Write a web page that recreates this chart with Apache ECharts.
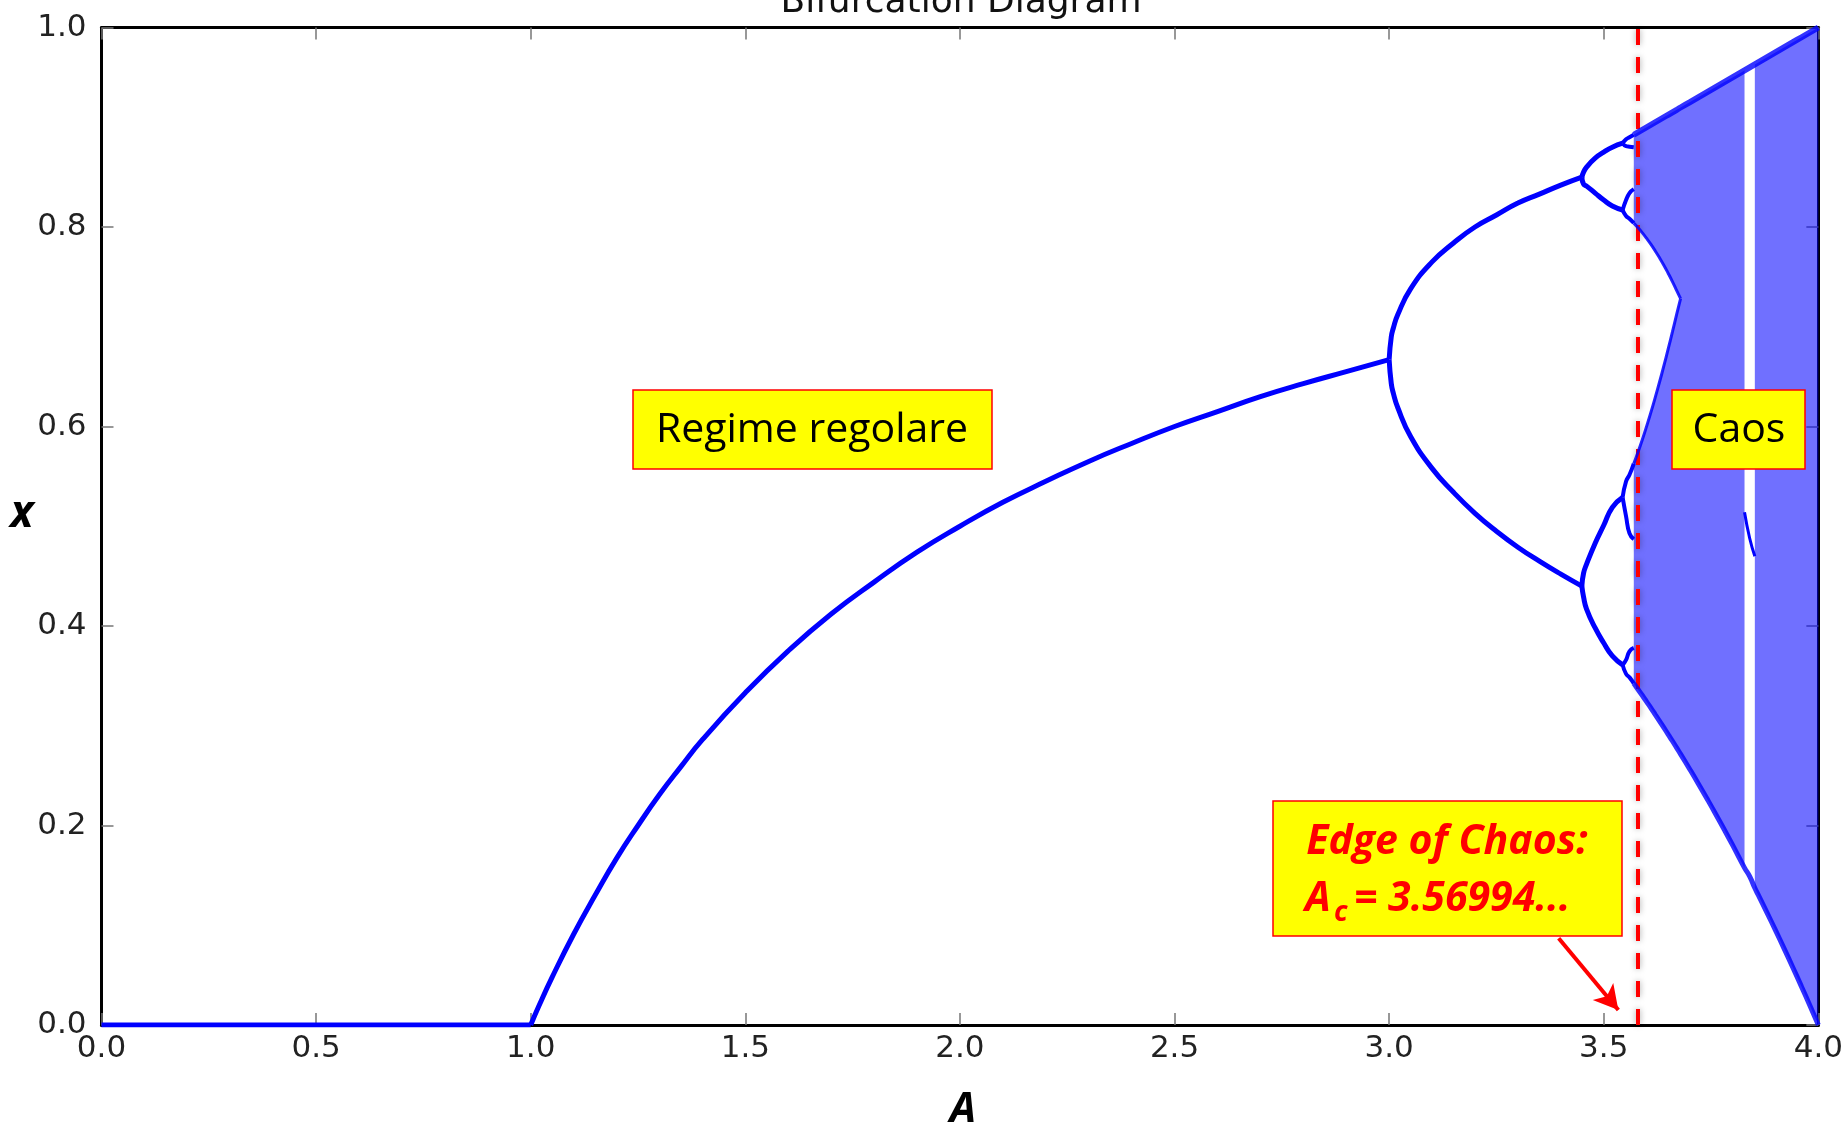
<!DOCTYPE html>
<html>
<head>
<meta charset="utf-8">
<script src="https://cdn.jsdelivr.net/npm/echarts@6/dist/echarts.min.js"></script>
<style>
html,body{margin:0;padding:0;background:#fff;}
#chart{width:1846px;height:1128px;}
</style>
</head>
<body>
<div id="chart"></div>
<script>
// ---- data ----
const xTicks = [0.0, 0.5, 1.0, 1.5, 2.0, 2.5, 3.0, 3.5, 4.0];
const yTicks = [0.0, 0.2, 0.4, 0.6, 0.8, 1.0];

// fixed point x = 0 for A < 1
const branchZero = [[0.0, 0.0], [1.0, 0.0]];
// single stable branch 1 < A < 3
const branchOneA = [1.00, 1.02, 1.05, 1.10, 1.15, 1.20, 1.25, 1.30, 1.35, 1.40, 1.50, 1.60, 1.70, 1.80, 1.90, 2.00, 2.10, 2.20, 2.30, 2.40, 2.50, 2.60, 2.70, 2.80, 2.90, 3.00];
const branchOneX = [0.000, 0.020, 0.048, 0.091, 0.130, 0.167, 0.200, 0.231, 0.259, 0.286, 0.333, 0.375, 0.412, 0.444, 0.474, 0.500, 0.524, 0.545, 0.565, 0.583, 0.600, 0.615, 0.630, 0.643, 0.655, 0.667];
// period 2
const period2A  = [3.000, 3.005, 3.010, 3.020, 3.050, 3.100, 3.150, 3.200, 3.250, 3.300, 3.350, 3.400, 3.449];
const period2Hi = [0.667, 0.690, 0.699, 0.712, 0.738, 0.765, 0.784, 0.800, 0.812, 0.824, 0.833, 0.842, 0.850];
const period2Lo = [0.667, 0.643, 0.633, 0.619, 0.590, 0.558, 0.534, 0.513, 0.495, 0.479, 0.465, 0.452, 0.440];
// period 4
const period4A = [3.449, 3.453, 3.460, 3.480, 3.500, 3.520, 3.544];
const period4a = [0.850, 0.855, 0.860, 0.869, 0.875, 0.880, 0.884];
const period4b = [0.850, 0.843, 0.841, 0.834, 0.827, 0.821, 0.817];
const period4c = [0.440, 0.453, 0.462, 0.483, 0.501, 0.519, 0.529];
const period4d = [0.440, 0.429, 0.417, 0.398, 0.383, 0.370, 0.361];
// period 8 (up to the onset of chaos)
const period8A  = [3.544, 3.552, 3.560, 3.570];
const period8a1 = [0.884, 0.888, 0.890, 0.8925];
const period8a2 = [0.884, 0.881, 0.8805, 0.880];
const period8b1 = [0.361, 0.352, 0.3485, 0.3425];
const period8b2 = [0.361, 0.366, 0.3746, 0.378];
const period8c1 = [0.817, 0.811, 0.8083, 0.804];
const period8c2 = [0.817, 0.827, 0.834, 0.838];
const period8d1 = [0.529, 0.545, 0.5516, 0.5628];
const period8d2 = [0.529, 0.510, 0.4929, 0.487];

// chaotic region: two bands before they merge
const bandA      = [3.570, 3.580, 3.590, 3.600, 3.610, 3.620, 3.630, 3.640, 3.650, 3.660, 3.670, 3.679];
const bandTop    = [0.8925, 0.8950, 0.8975, 0.9000, 0.9025, 0.9050, 0.9075, 0.9100, 0.9125, 0.9150, 0.9175, 0.9198];
const bandGapHi  = [0.8039, 0.7992, 0.7941, 0.7885, 0.7825, 0.7760, 0.7691, 0.7617, 0.7537, 0.7453, 0.7363, 0.7282];
const bandGapLo  = [0.5628, 0.5745, 0.5870, 0.6004, 0.6144, 0.6292, 0.6446, 0.6607, 0.6776, 0.6948, 0.7126, 0.7282];
const bandBottom = [0.3425, 0.3364, 0.3303, 0.3240, 0.3177, 0.3112, 0.3047, 0.2981, 0.2914, 0.2847, 0.2778, 0.2716];
// single band up to the period-3 window
const chaosA      = [3.679, 3.700, 3.720, 3.740, 3.760, 3.780, 3.800, 3.828];
const chaosTop    = [0.9198, 0.9250, 0.9300, 0.9350, 0.9400, 0.9450, 0.9500, 0.9570];
const chaosBottom = [0.2716, 0.2567, 0.2422, 0.2273, 0.2121, 0.1965, 0.1805, 0.1575];
// period-3 window
const windowA   = [3.828, 3.840, 3.852];
const windowTop = [0.957, 0.960, 0.963];
const windowMid = [0.514, 0.488, 0.470];
const windowLow = [0.1575, 0.149, 0.1373];
// chaos after the window
const chaos2A      = [3.852, 3.860, 3.880, 3.900, 3.920, 3.940, 3.960, 3.980, 4.000];
const chaos2Top    = [0.9630, 0.9650, 0.9700, 0.9750, 0.9800, 0.9850, 0.9900, 0.9950, 1.0000];
const chaos2Bottom = [0.1373, 0.1304, 0.1129, 0.0951, 0.0768, 0.0582, 0.0392, 0.0198, 0.0000];

const edgeOfChaosA = 3.575;
const arrowFrom = [3.395, 0.087];
const arrowTo   = [3.534, 0.015];

// ---- build chart ----
const BLUE = '#0000ff';
const CHAOS_FILL = 'rgba(0,0,255,0.56)';
const zip = (xs, ys) => xs.map((x, i) => [x, ys[i]]);

function branch(xs, ys, width, opacity) {
  return {
    type: 'line', data: zip(xs, ys), showSymbol: false, symbol: 'none',
    smooth: 0.5, z: 5, silent: true,
    lineStyle: { color: BLUE, width: width || 5, opacity: opacity == null ? 1 : opacity }
  };
}
// polygon outline given as a list of [A, x] value pairs
function area(outline) {
  return {
    type: 'custom', coordinateSystem: 'cartesian2d', silent: true, clip: true, z: 3,
    data: [outline[0]],
    renderItem: function (params, api) {
      return { type: 'polygon', shape: { points: outline.map(p => api.coord(p)) }, style: { fill: CHAOS_FILL } };
    }
  };
}
const rev = a => a.slice().reverse();

// outline of the chaotic region left of the period-3 window (with the notch between the two bands)
const leftA   = bandA.concat(chaosA.slice(1));
const leftTop = bandTop.concat(chaosTop.slice(1));
const leftBot = bandBottom.concat(chaosBottom.slice(1));
const leftOutline = zip(leftA, leftTop)
  .concat(rev(zip(leftA, leftBot)))
  .concat(zip(bandA, bandGapLo))
  .concat(rev(zip(bandA, bandGapHi)));
const rightOutline = zip(chaos2A, chaos2Top).concat(rev(zip(chaos2A, chaos2Bottom)));

const envTopA = bandA.concat(chaosA.slice(1), windowA.slice(1), chaos2A.slice(1));
const envTopX = bandTop.concat(chaosTop.slice(1), windowTop.slice(1), chaos2Top.slice(1));
const envBotX = bandBottom.concat(chaosBottom.slice(1), windowLow.slice(1), chaos2Bottom.slice(1));

const series = [
  area(leftOutline),
  area(rightOutline),
  branch(envTopA, envTopX, 6, 0.8),
  branch(envTopA, envBotX, 5, 0.8),
  branch(bandA, bandGapHi, 3, 0.85),
  branch(bandA, bandGapLo, 3, 0.85),
  branch(windowA, windowMid, 3),
  { type: 'line', data: branchZero, showSymbol: false, symbol: 'none', z: 5, silent: true,
    lineStyle: { color: BLUE, width: 5 } },
  branch(branchOneA, branchOneX),
  branch(period2A, period2Hi),
  branch(period2A, period2Lo),
  branch(period4A, period4a),
  branch(period4A, period4b),
  branch(period4A, period4c),
  branch(period4A, period4d),
  branch(period8A, period8a1, 4),
  branch(period8A, period8a2, 4),
  branch(period8A, period8b1, 4),
  branch(period8A, period8b2, 4),
  branch(period8A, period8c1, 4),
  branch(period8A, period8c2, 4),
  branch(period8A, period8d1, 4),
  branch(period8A, period8d2, 4),
  { type: 'line', data: [], z: 10, silent: true,
    markLine: {
      silent: true, symbol: ['none', 'none'], animation: false,
      label: { show: false },
      lineStyle: { color: '#ff0000', width: 4, type: [16, 12], shadowBlur: 6, shadowColor: 'rgba(0,0,0,0.35)' },
      data: [{ xAxis: edgeOfChaosA }]
    }
  },
  { type: 'line', data: [], z: 10, silent: true,
    markLine: {
      silent: true, symbol: ['none', 'arrow'], symbolSize: [20, 24], animation: false,
      label: { show: false },
      lineStyle: { color: '#ff0000', width: 4, type: 'solid' },
      data: [[{ coord: arrowFrom }, { coord: arrowTo }]]
    }
  }
];

const tickStyle = { show: true, inside: true, length: 12, lineStyle: { color: '#777', width: 1.5 } };
const lineStyleAxis = { show: true, onZero: false, lineStyle: { color: '#000', width: 3 } };
const labelFont = { fontFamily: 'DejaVu Sans', fontSize: 31, color: '#222' };

const option = {
  animation: false,
  backgroundColor: '#fff',
  grid: { left: 101.5, top: 27.5, right: 23.5, bottom: 103, containLabel: false },
  xAxis: [
    { type: 'value', min: xTicks[0], max: xTicks[xTicks.length - 1], interval: 0.5, position: 'bottom',
      axisLine: lineStyleAxis, axisTick: tickStyle, splitLine: { show: false },
      axisLabel: Object.assign({ margin: 8, formatter: v => v.toFixed(1) }, labelFont) },
    { type: 'value', min: xTicks[0], max: xTicks[xTicks.length - 1], interval: 0.5, position: 'top',
      axisLine: lineStyleAxis, axisTick: tickStyle, splitLine: { show: false }, axisLabel: { show: false } }
  ],
  yAxis: [
    { type: 'value', min: yTicks[0], max: yTicks[yTicks.length - 1], interval: 0.2, position: 'left',
      axisLine: lineStyleAxis, axisTick: tickStyle, splitLine: { show: false },
      axisLabel: Object.assign({ margin: 15, formatter: v => v.toFixed(1) }, labelFont) },
    { type: 'value', min: yTicks[0], max: yTicks[yTicks.length - 1], interval: 0.2, position: 'right',
      axisLine: lineStyleAxis, axisTick: tickStyle, splitLine: { show: false }, axisLabel: { show: false } }
  ],
  series: series,
  graphic: [
    { type: 'text', z: 100, style: { text: 'Bifurcation Diagram', x: 961, y: 21, font: '36px "DejaVu Sans"', fill: '#111', align: 'center', verticalAlign: 'bottom', textAlign: 'center', textVerticalAlign: 'bottom' } },
    { type: 'text', z: 100, style: { text: 'A', x: 963, y: 1110, font: 'italic bold 42px "Open Sans"', fill: '#000', align: 'center', verticalAlign: 'middle', textAlign: 'center', textVerticalAlign: 'middle' } },
    { type: 'text', z: 100, style: { text: 'x', x: 22, y: 514, font: 'italic bold 44px "Open Sans"', fill: '#000', align: 'center', verticalAlign: 'middle', textAlign: 'center', textVerticalAlign: 'middle' } },
    // Regime regolare
    { type: 'rect', z: 100, shape: { x: 633, y: 390, width: 359, height: 79 }, style: { fill: '#ffff00', stroke: '#ff0000', lineWidth: 1.5 } },
    { type: 'text', z: 101, style: { text: 'Regime regolare', x: 812, y: 430, font: '41px "Open Sans"', fill: '#000', align: 'center', verticalAlign: 'middle', textAlign: 'center', textVerticalAlign: 'middle' } },
    // Caos
    { type: 'rect', z: 100, shape: { x: 1672, y: 390, width: 133, height: 79 }, style: { fill: '#ffff00', stroke: '#ff0000', lineWidth: 1.5 } },
    { type: 'text', z: 101, style: { text: 'Caos', x: 1739, y: 430, font: '41px "Open Sans"', fill: '#000', align: 'center', verticalAlign: 'middle', textAlign: 'center', textVerticalAlign: 'middle' } },
    // Edge of chaos
    { type: 'rect', z: 100, shape: { x: 1273, y: 801, width: 349, height: 135 }, style: { fill: '#ffff00', stroke: '#ff0000', lineWidth: 1.5 } },
    { type: 'text', z: 101, style: { text: 'Edge of Chaos:', x: 1447, y: 842, font: 'italic bold 41px "Open Sans"', fill: '#ff0000', align: 'center', verticalAlign: 'middle', textAlign: 'center', textVerticalAlign: 'middle' } },
    { type: 'text', z: 101, style: { text: 'A', x: 1305, y: 899, font: 'italic bold 41px "Open Sans"', fill: '#ff0000', align: 'left', verticalAlign: 'middle', textAlign: 'left', textVerticalAlign: 'middle' } },
    { type: 'text', z: 101, style: { text: 'c', x: 1334, y: 913, font: 'italic bold 28px "Open Sans"', fill: '#ff0000', align: 'left', verticalAlign: 'middle', textAlign: 'left', textVerticalAlign: 'middle' } },
    { type: 'text', z: 101, style: { text: '= 3.56994...', x: 1354, y: 899, font: 'italic bold 41px "Open Sans"', fill: '#ff0000', align: 'left', verticalAlign: 'middle', textAlign: 'left', textVerticalAlign: 'middle' } }
  ]
};

const chart = echarts.init(document.getElementById('chart'), null, { renderer: 'canvas' });
chart.setOption(option);
</script>
</body>
</html>
